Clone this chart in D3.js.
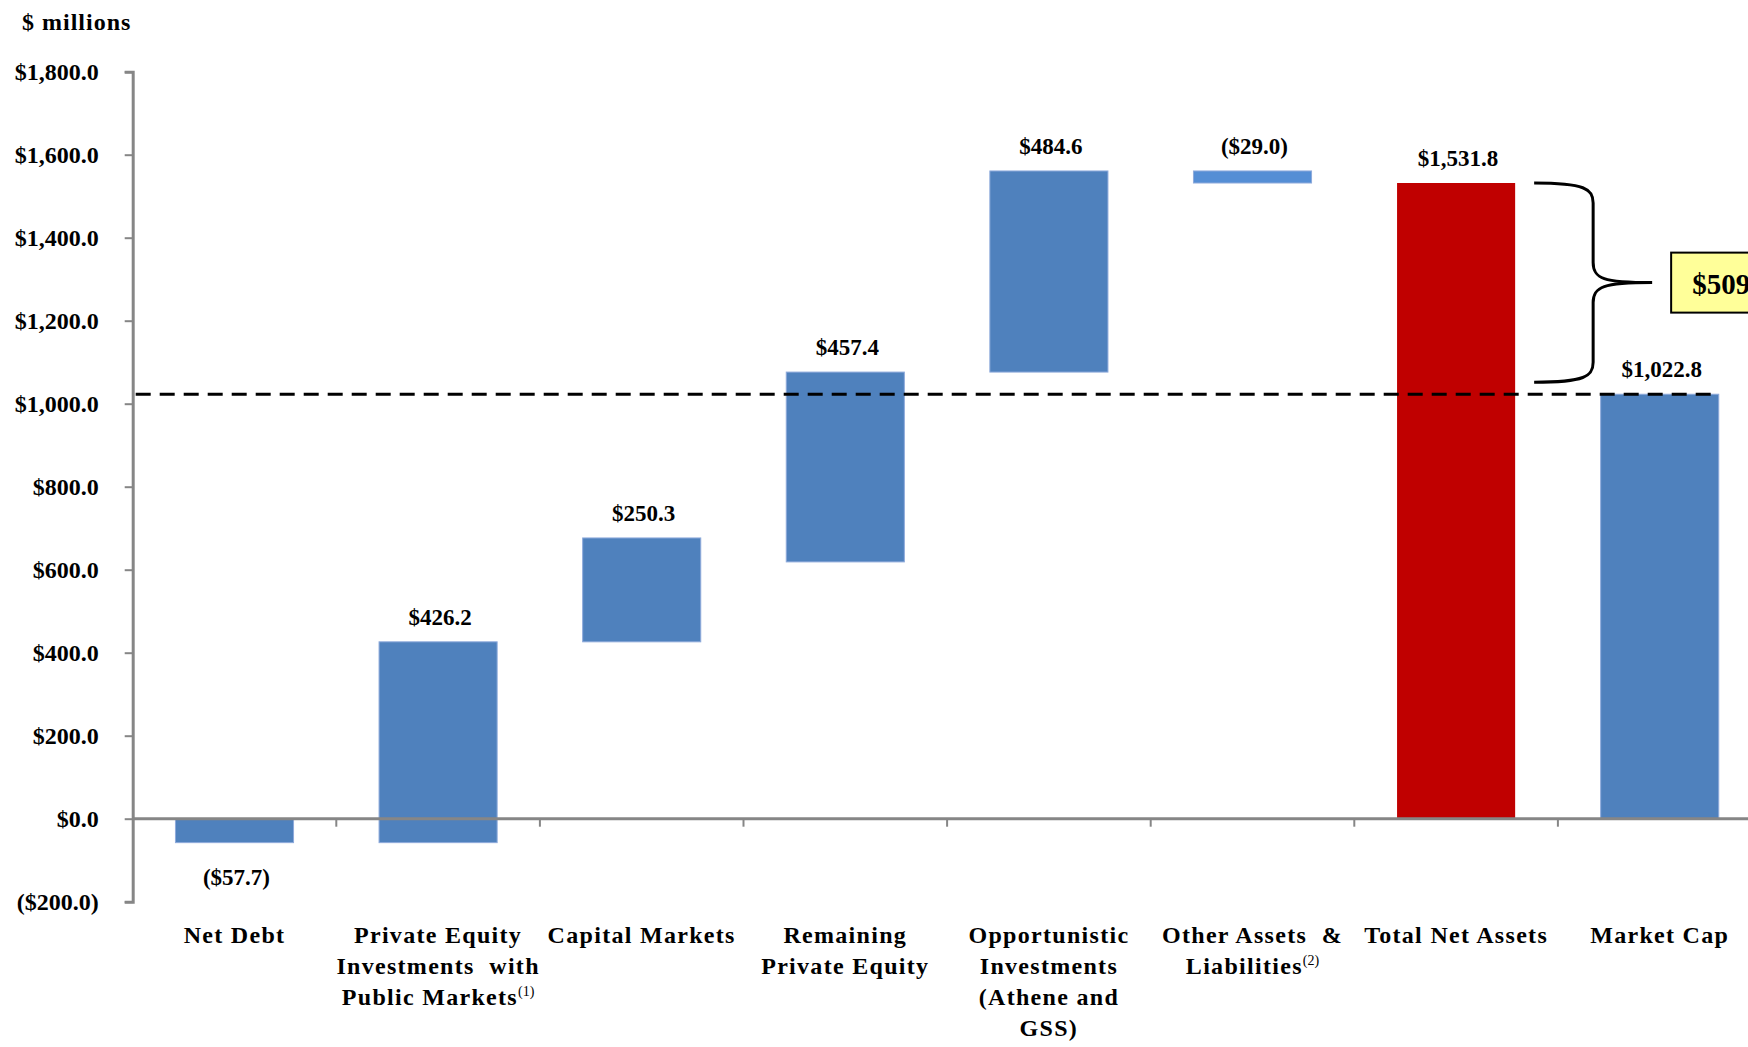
<!DOCTYPE html>
<html lang="en">
<head>
    <meta charset="UTF-8">
    <title>Net assets waterfall</title>
    <script src="https://d3js.org/d3.v7.min.js"></script>
    <style type="text/css">
        body {margin: 0; background: #ffffff;}
        /* all chart text is bold serif */
        text {font-family: "Liberation Serif", "Times New Roman", serif; font-weight: bold; fill: #000;}
    </style>
</head>
<body>
    <div id="chart"></div>

<script>

// Chart data
var categories = ["Net Debt", "Private Equity Investments with Public Markets", "Capital Markets",
    "Remaining Private Equity", "Opportunistic Investments (Athene and GSS)",
    "Other Assets & Liabilities", "Total Net Assets", "Market Cap"];

// how each category label wraps, plus its footnote mark
var labelLines = [
    ["Net Debt"],
    ["Private Equity", "Investments  with", "Public Markets"],
    ["Capital Markets"],
    ["Remaining", "Private Equity"],
    ["Opportunistic", "Investments", "(Athene and", "GSS)"],
    ["Other Assets  &", "Liabilities"],
    ["Total Net Assets"],
    ["Market Cap"]
];
var footnotes = ["", "(1)", "", "", "", "(2)", "", ""];

// bar values shown in the labels
var barValue = [-57.7, 426.2, 250.3, 457.4, 484.6, -29.0, 1531.8, 1022.8];
// bottom and top of each floating bar as drawn
var barLow  = [-57.7, -57.7, 426.2, 618.8, 1076.2, 1531.8, 0, 0];
var barHigh = [0, 426.2, 676.5, 1076.2, 1560.8, 1560.8, 1531.8, 1022.8];
var barKind = ["step", "step", "step", "step", "step", "adjust", "total", "step"];

var yTicks = [-200, 0, 200, 400, 600, 800, 1000, 1200, 1400, 1600, 1800];

var width = 1748;
var height = 1047;
var colors = {step: "#4F81BD", adjust: "#558ED5", total: "#C00000"};

var data = categories.map(function(c, i){
    return {cat: c, lines: labelLines[i], note: footnotes[i], value: barValue[i],
        low: barLow[i], high: barHigh[i], kind: barKind[i]};
});

// money format, negatives in brackets
function money(v){
    var s = "$" + d3.format(",.1f")(Math.abs(v));
    return v < 0 ? "(" + s + ")" : s;
}

var svg = d3.select("#chart").append("svg")
    .attr("width", width)
    .attr("height", height);

// Scales
var yScale = d3.scaleLinear()
    .domain([-200, 1800])
    .range([901.7, 71.7]);

var xScale = d3.scaleBand()
    .domain(categories)
    .range([132.7, 1761.5])
    .paddingInner(0.42)
    .paddingOuter(0.21);

var xLeft = 132.7;
var y0 = yScale(0);

// Bars
svg.selectAll("rect.bar")
    .data(data)
    .enter()
    .append("rect")
        .attr("class", "bar")
        .attr("x", function(d){ return xScale(d.cat); })
        .attr("y", function(d){ return yScale(d.high); })
        .attr("width", xScale.bandwidth())
        .attr("height", function(d){ return yScale(d.low) - yScale(d.high); })
        .attr("fill", function(d){ return colors[d.kind]; })
        .attr("stroke", function(d){ return d.kind == "total" ? "none" : "#8EAADB"; })
        .attr("stroke-width", 1);

// Y axis
var yAxis = d3.axisLeft(yScale)
    .tickValues(yTicks)
    .tickSize(8)
    .tickPadding(26)
    .tickFormat(money);

var yG = svg.append("g")
    .attr("transform", "translate(" + xLeft + ",0)")
    .call(yAxis);
yG.select(".domain").attr("stroke", "#868686").attr("stroke-width", 3);
yG.selectAll(".tick line").attr("stroke", "#868686").attr("stroke-width", 2);
yG.selectAll(".tick text")
    .attr("font-family", "Liberation Serif, serif")
    .attr("font-weight", "bold")
    .attr("font-size", "24px")
    .attr("fill", "#000");

// X axis at zero, ticks at category boundaries
var step = xScale.step();
var bandStart = xScale(categories[0]) - xScale.paddingOuter() * step;
svg.selectAll("line.xtick")
    .data(d3.range(1, categories.length))
    .enter()
    .append("line")
        .attr("class", "xtick")
        .attr("x1", function(i){ return bandStart + i * step; })
        .attr("x2", function(i){ return bandStart + i * step; })
        .attr("y1", y0)
        .attr("y2", y0 + 8)
        .attr("stroke", "#868686")
        .attr("stroke-width", 2);

svg.append("line")
    .attr("x1", xLeft)
    .attr("x2", width)
    .attr("y1", y0)
    .attr("y2", y0)
    .attr("stroke", "#868686")
    .attr("stroke-width", 3);

// Category labels
var catText = svg.selectAll("text.cat")
    .data(data)
    .enter()
    .append("text")
        .attr("class", "cat")
        .attr("text-anchor", "middle")
        .attr("font-size", "24px")
        .attr("letter-spacing", "1.3px")
        .attr("x", function(d){ return xScale(d.cat) + xScale.bandwidth() / 2; })
        .attr("y", y0 + 124);

catText.each(function(d){
    var t = d3.select(this);
    var cx = xScale(d.cat) + xScale.bandwidth() / 2;
    d.lines.forEach(function(line, j){
        t.append("tspan")
            .attr("x", cx)
            .attr("y", y0 + 124 + j * 31)
            .style("white-space", "pre")
            .text(line);
        if (j == d.lines.length - 1 && d.note) {
            t.append("tspan")
                .attr("dy", -9)
                .attr("font-size", "14px")
                .attr("font-weight", "normal")
                .attr("letter-spacing", "0px")
                .text(d.note);
        }
    });
});

// Value labels
svg.selectAll("text.value")
    .data(data)
    .enter()
    .append("text")
        .attr("class", "value")
        .attr("text-anchor", "middle")
        .attr("font-size", "23px")
        .attr("x", function(d){ return xScale(d.cat) + xScale.bandwidth() / 2 + 2; })
        .attr("y", function(d){
            if (d.value < 0 && d.low < 0) {return yScale(d.low) + 42;}
            return yScale(d.high) - 17;
        })
        .text(function(d){ return money(d.value); });

// Dashed market cap reference line
var capRow = data[data.length - 1];
var totalRow = data[data.length - 2];
svg.append("line")
    .attr("x1", xLeft + 3)
    .attr("x2", xScale(capRow.cat) + xScale.bandwidth() - 6)
    .attr("y1", yScale(capRow.value))
    .attr("y2", yScale(capRow.value))
    .attr("stroke", "#000")
    .attr("stroke-width", 3)
    .attr("stroke-dasharray", "15,9");

// Brace between total and market cap
var bx = xScale(totalRow.cat) + xScale.bandwidth() + 19;
var bTop = yScale(totalRow.value);
var bBot = yScale(capRow.value) - 12;
var bMid = (bTop + bBot) / 2;
var braceW = 118;
var arm = bx + braceW / 2;
var bracePath = d3.path();
bracePath.moveTo(bx, bTop);
bracePath.bezierCurveTo(arm - 8, bTop, arm, bTop + 6, arm, bTop + 20);
bracePath.lineTo(arm, bMid - 20);
bracePath.bezierCurveTo(arm, bMid - 4, arm + 10, bMid, bx + braceW, bMid);
bracePath.bezierCurveTo(arm + 10, bMid, arm, bMid + 4, arm, bMid + 20);
bracePath.lineTo(arm, bBot - 20);
bracePath.bezierCurveTo(arm, bBot - 6, arm - 8, bBot, bx, bBot);

svg.append("path")
    .attr("d", bracePath.toString())
    .attr("fill", "none")
    .attr("stroke", "#000")
    .attr("stroke-width", 3);

// Difference box
var boxX = bx + braceW + 19;
svg.append("rect")
    .attr("x", boxX)
    .attr("y", bMid - 30)
    .attr("width", 140)
    .attr("height", 60)
    .attr("fill", "#FFFF99")
    .attr("stroke", "#000")
    .attr("stroke-width", 2);

svg.append("text")
    .attr("x", boxX + 21)
    .attr("y", bMid + 11)
    .attr("font-size", "29px")
    .text(money(totalRow.value - capRow.value));

// Unit label
svg.append("text")
    .attr("x", 22)
    .attr("y", 30)
    .attr("font-size", "24px")
    .attr("letter-spacing", "1px")
    .text("$ millions");

</script>
</body>
</html>
